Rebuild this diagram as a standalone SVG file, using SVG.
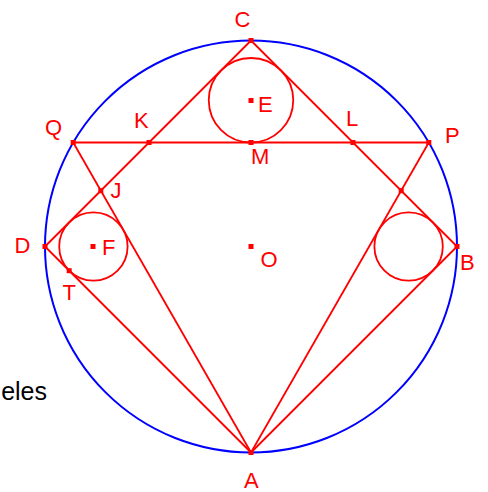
<svg xmlns="http://www.w3.org/2000/svg" width="488" height="492" viewBox="0 0 488 492">
<style>
.ln{stroke:#ff0000;stroke-width:1.8;fill:none}
.ci{stroke:#ff0000;stroke-width:1.8;fill:none}
.pt{fill:#ff0000}
.lb{font-family:"Liberation Sans",Arial,sans-serif;font-size:22px;fill:#ff0000}
</style>
<rect width="488" height="492" fill="#ffffff"/>
<g id="circumcircle"><circle cx="251" cy="246.5" r="206" fill="none" stroke="#0000ff" stroke-width="2"/></g>
<g id="connectors">
<line class="ln" x1="251" y1="40.5" x2="45" y2="246.5"/>
<line class="ln" x1="45" y1="246.5" x2="251" y2="452.5"/>
<line class="ln" x1="251" y1="452.5" x2="457" y2="246.5"/>
<line class="ln" x1="457" y1="246.5" x2="251" y2="40.5"/>
<line class="ln" x1="73.2" y1="142.5" x2="428.8" y2="142.5"/>
<line class="ln" x1="73.2" y1="142.5" x2="251" y2="452.5"/>
<line class="ln" x1="428.8" y1="142.5" x2="251" y2="452.5"/>
</g>
<g id="E"><circle class="ci" cx="251" cy="100.25" r="42.25"/><rect class="pt" x="248.5" y="98" width="5" height="5"/><text class="lb" x="258" y="111.5">E</text></g>
<g id="F"><circle class="ci" cx="93.4" cy="246.5" r="34.2"/><rect class="pt" x="90.5" y="244" width="5" height="5"/><text class="lb" x="102" y="254.5">F</text></g>
<g id="G"><circle class="ci" cx="408.6" cy="246.5" r="34.2"/></g>
<g id="C"><rect class="pt" x="248.5" y="38" width="5" height="5"/><text class="lb" x="234.5" y="26.5">C</text></g>
<g id="A"><rect class="pt" x="248.5" y="450" width="5" height="5"/><text class="lb" x="244" y="487.5">A</text></g>
<g id="D"><rect class="pt" x="42.5" y="244" width="5" height="5"/><text class="lb" x="14.5" y="252.5">D</text></g>
<g id="B"><rect class="pt" x="454.5" y="244" width="5" height="5"/><text class="lb" x="460" y="269.5">B</text></g>
<g id="Q"><rect class="pt" x="70.7" y="140" width="5" height="5"/><text class="lb" x="45" y="134.5">Q</text></g>
<g id="P"><rect class="pt" x="426.3" y="140" width="5" height="5"/><text class="lb" x="445" y="142.5">P</text></g>
<g id="K"><rect class="pt" x="146.5" y="140" width="5" height="5"/><text class="lb" x="134" y="127.5">K</text></g>
<g id="L"><rect class="pt" x="350.5" y="140" width="5" height="5"/><text class="lb" x="346" y="125.5">L</text></g>
<g id="M"><rect class="pt" x="248.5" y="140" width="5" height="5"/><text class="lb" x="251" y="163.5">M</text></g>
<g id="J"><rect class="pt" x="98.3" y="188.2" width="5" height="5"/><text class="lb" x="110.5" y="197.5">J</text></g>
<g id="R"><rect class="pt" x="398.7" y="188.2" width="5" height="5"/></g>
<g id="T"><rect class="pt" x="66.7" y="268.2" width="5" height="5"/><text class="lb" x="62.5" y="299.5">T</text></g>
<g id="O"><rect class="pt" x="248.5" y="244" width="5" height="5"/><text class="lb" x="260.5" y="266.5">O</text></g>
<text x="47" y="400" text-anchor="end" font-family="Liberation Sans,Arial,sans-serif" font-size="25" fill="#000000">eles</text>
</svg>
